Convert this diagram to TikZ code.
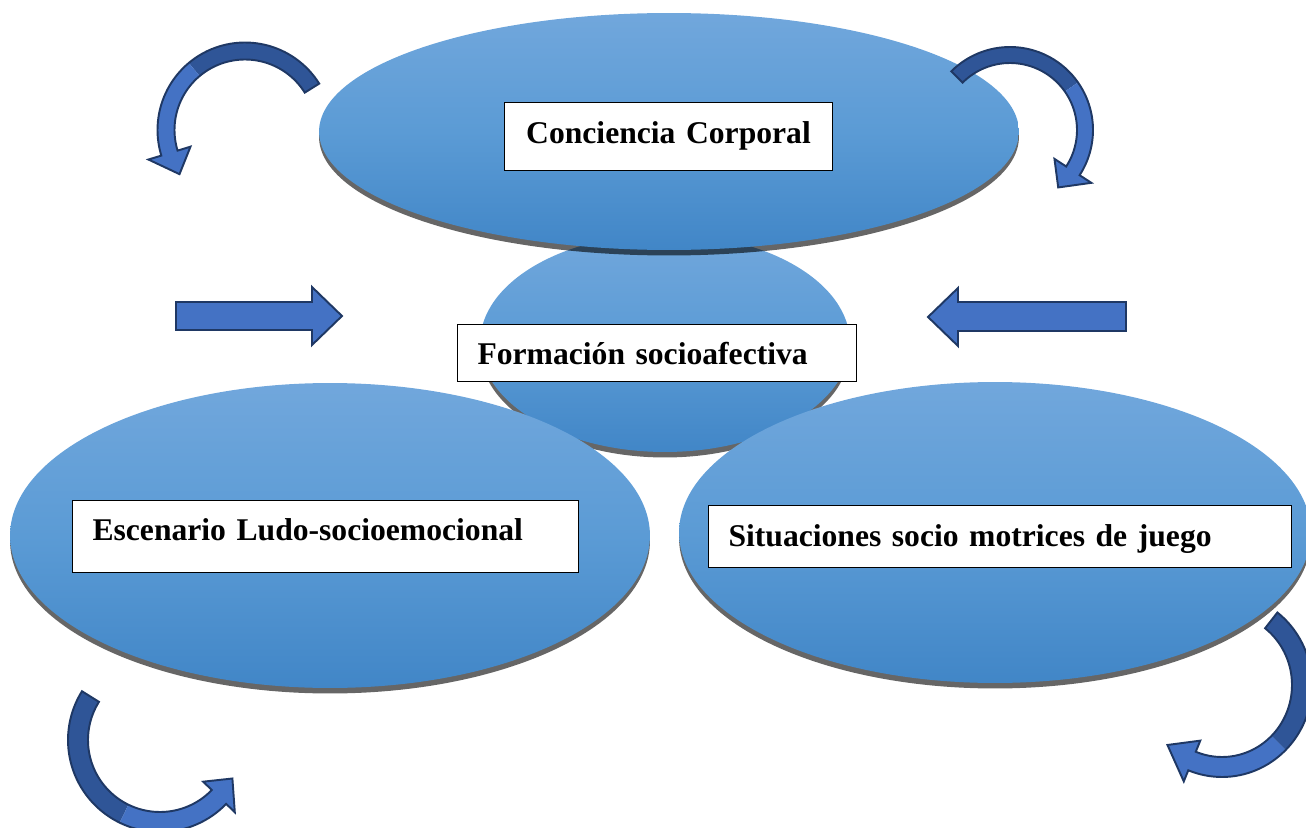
\documentclass[tikz,border=0pt]{standalone}
\usepackage{fontspec}
\setmainfont{Liberation Serif}
\usepackage{tikz}
\usetikzlibrary{shapes}
\usetikzlibrary{shadows}
\usetikzlibrary{positioning}
\definecolor{ellTop}{RGB}{113,167,220}
\definecolor{ellMid}{RGB}{91,155,213}
\definecolor{ellBot}{RGB}{65,134,199}
\definecolor{arrowFill}{RGB}{68,114,196}
\definecolor{arrowDark}{RGB}{47,85,151}
\definecolor{arrowEdge}{RGB}{31,56,100}
\tikzset{
    bubble/.style = {
      ellipse,
      inner sep=0pt,
      top color=ellTop,
      bottom color=ellBot,
      middle color=ellMid,
      drop shadow={shadow xshift=0pt, shadow yshift=-0.11cm, fill=black, opacity=0.6}
    },
    labelbox/.style = {
      draw=black,
      line width=0.6pt,
      fill=white,
      anchor=north west,
      inner ysep=0pt,
      inner xsep=0.4cm,
      font=\fontsize{18}{21}\selectfont\bfseries
    },
    blockarrow/.style = {fill=arrowFill, draw=arrowEdge, line width=1.1pt, line join=miter},
    bentdark/.style = {fill=arrowDark},
    bentlight/.style = {fill=arrowFill},
    bentline/.style = {draw=arrowEdge, line width=1.1pt, line join=miter},
}
\newcommand\headw{22}
% curved block arrow: centre, radii, band width, tail, shade change, head base, tip
\newcommand\bentarrow[9]{%
  \fill[bentdark] plot[domain=#6:#7, samples=40] ({#1+(#3+#5/2)*cos(\x)}, {#2+(#4+#5/2)*sin(\x)})
    -- plot[domain=#7:#6, samples=40] ({#1+(#3-#5/2)*cos(\x)}, {#2+(#4-#5/2)*sin(\x)}) -- cycle;
  \fill[bentlight] plot[domain=#7:#8, samples=40] ({#1+(#3+#5/2)*cos(\x)}, {#2+(#4+#5/2)*sin(\x)})
    -- ({#1+(#3+\headw)*cos(#8)}, {#2+(#4+\headw)*sin(#8)})
    -- ({#1+#3*cos(#9)}, {#2+#4*sin(#9)})
    -- ({#1+(#3-\headw)*cos(#8)}, {#2+(#4-\headw)*sin(#8)})
    -- plot[domain=#8:#7, samples=40] ({#1+(#3-#5/2)*cos(\x)}, {#2+(#4-#5/2)*sin(\x)}) -- cycle;
  \draw[bentline] plot[domain=#6:#8, samples=60] ({#1+(#3+#5/2)*cos(\x)}, {#2+(#4+#5/2)*sin(\x)})
    -- ({#1+(#3+\headw)*cos(#8)}, {#2+(#4+\headw)*sin(#8)})
    -- ({#1+#3*cos(#9)}, {#2+#4*sin(#9)})
    -- ({#1+(#3-\headw)*cos(#8)}, {#2+(#4-\headw)*sin(#8)})
    -- plot[domain=#8:#6, samples=60] ({#1+(#3-#5/2)*cos(\x)}, {#2+(#4-#5/2)*sin(\x)}) -- cycle;
}
\begin{document}
\begin{tikzpicture}[x=0.02cm, y=-0.02cm]
  \useasboundingbox (0,0) rectangle (1306,828);

  \node [bubble, minimum width=7.4cm, minimum height=4.36cm] (socioafectiva) at (665,343) {};
  \node [bubble, minimum width=14cm, minimum height=4.74cm] (corporal) at (669,131.5) {};
  \node [bubble, minimum width=12.8cm, minimum height=6.1cm] (ludo) at (330,535.5) {};
  \node [bubble, minimum width=12.64cm, minimum height=6.02cm] (motrices) at (995,532.5) {};

  % arrows pointing to the centre
  \draw [blockarrow] (176,302) -- (312,302) -- (312,287) -- (342,316)
        -- (312,345) -- (312,330) -- (176,330) -- cycle;
  \draw [blockarrow] (1126,302) -- (958,302) -- (958,288) -- (928,317)
        -- (958,346) -- (958,331) -- (1126,331) -- cycle;

  \bentarrow{245}{130}{79}{79}{17}{-32}{-130}{-197}{-214}
  \bentarrow{1010}{130}{75}{75}{16}{-135}{-35}{33}{50}
  \bentarrow{160}{740}{82}{82}{20}{212}{116}{44}{28}
  \bentarrow{1222}{685}{80}{82}{20}{-52}{45}{112}{133}

  \node [labelbox, text width=5.76cm, align=center, text height=0.82cm, text depth=0.54cm]
        (corporaltext) at (504,102) {Conciencia Corporal};
  \node [labelbox, text width=7.18cm, align=left, text height=0.80cm, text depth=0.34cm]
        (socioafectivatext) at (457,324) {Formación socioafectiva};
  \node [labelbox, text width=9.32cm, align=left, text height=0.80cm, text depth=0.64cm]
        (ludotext) at (72,500) {Escenario Ludo-socioemocional};
  \node [labelbox, text width=10.86cm, align=left, text height=0.82cm, text depth=0.42cm]
        (motricestext) at (708,505) {Situaciones socio motrices de juego};
\end{tikzpicture}
\end{document}
